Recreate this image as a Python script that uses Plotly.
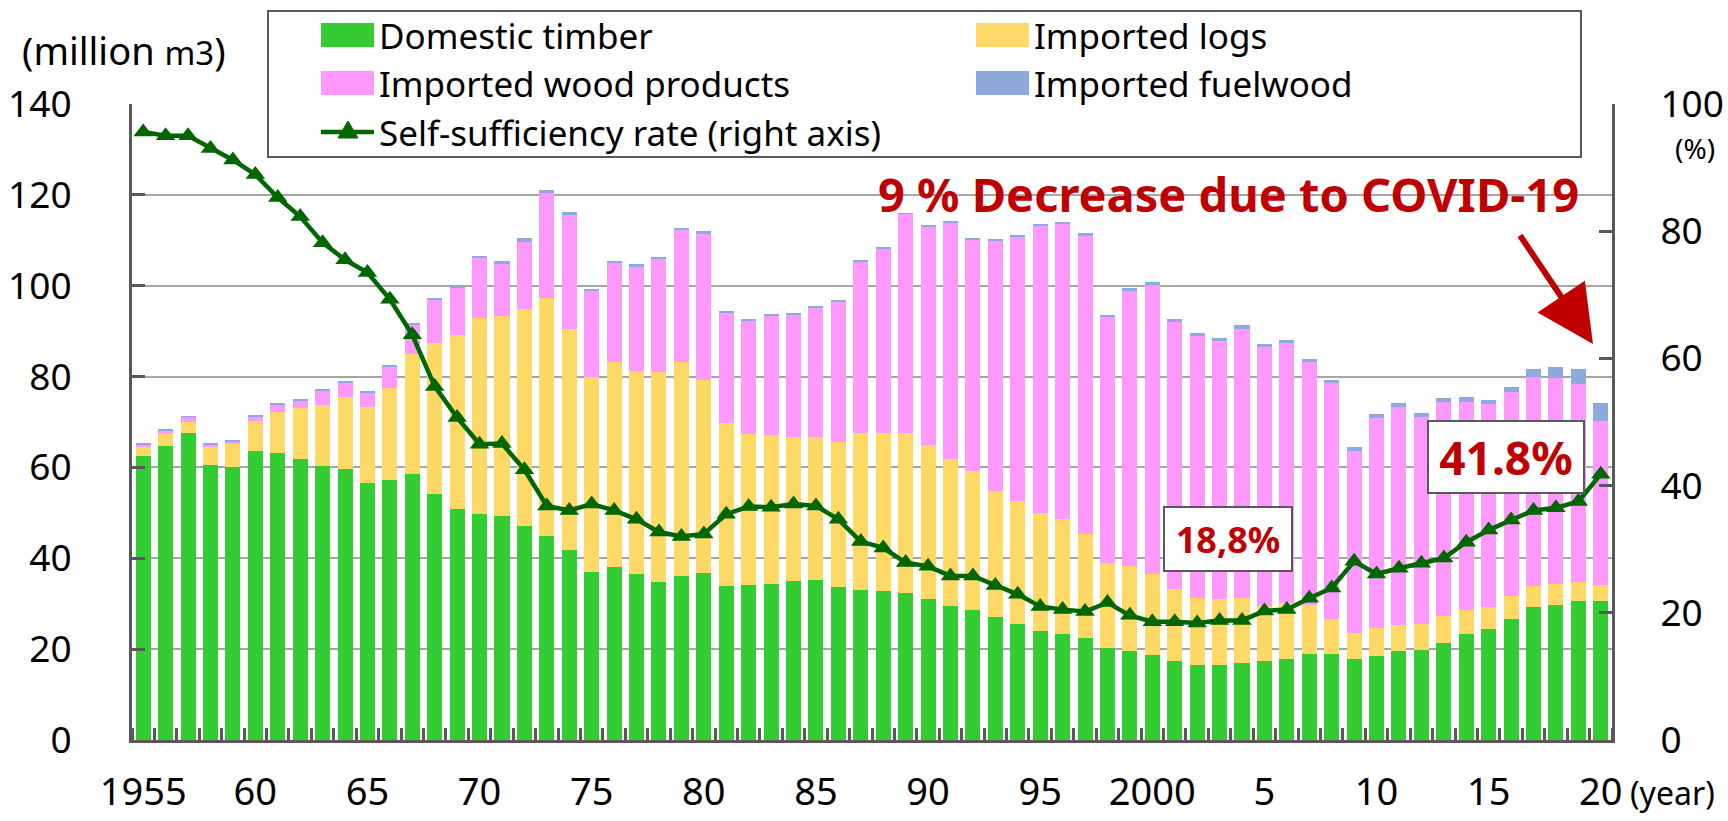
import plotly.graph_objects as go

years = list(range(1955, 2021))

domestic = [62.5, 64.7, 67.6, 60.5, 60.1, 63.6, 63.2, 61.8, 60.3, 59.6,
            56.5, 57.2, 58.6, 54.1, 50.9, 49.7, 49.3, 47.0, 44.9, 41.9,
            37.0, 38.1, 36.5, 34.8, 36.1, 36.8, 33.8, 34.2, 34.4, 35.0,
            35.2, 33.7, 33.0, 32.9, 32.4, 31.0, 29.6, 28.7, 27.0, 25.6,
            24.0, 23.4, 22.4, 20.2, 19.7, 18.7, 17.3, 16.5, 16.5, 16.9,
            17.4, 17.8, 19.0, 19.0, 17.8, 18.5, 19.6, 19.8, 21.3, 23.3,
            24.5, 26.7, 29.2, 29.7, 30.6, 30.7]

imported_logs = [2.1, 2.7, 2.5, 4.1, 5.1, 6.7, 9.1, 11.2, 13.4, 16.0,
                 16.7, 20.3, 26.4, 33.2, 38.3, 43.3, 44.0, 47.8, 52.5, 48.6,
                 42.8, 45.2, 44.7, 46.3, 47.1, 42.5, 36.0, 33.2, 32.7, 31.7,
                 31.5, 31.9, 34.6, 34.6, 35.2, 34.0, 32.2, 30.5, 27.8, 27.1,
                 25.9, 25.2, 23.0, 18.7, 18.6, 17.9, 16.0, 14.8, 14.5, 14.4,
                 12.2, 12.3, 10.7, 7.7, 5.8, 6.1, 5.8, 5.7, 6.0, 5.3,
                 4.8, 5.1, 4.7, 4.7, 4.2, 3.4]

imported_products = [0.5, 0.7, 1.0, 0.4, 0.6, 0.9, 1.6, 1.8, 3.3, 3.1,
                     3.4, 4.7, 6.4, 9.6, 10.3, 13.2, 11.5, 14.8, 22.9, 25.1,
                     19.1, 21.7, 23.1, 24.8, 29.0, 32.0, 24.3, 24.8, 26.3, 26.9,
                     28.4, 31.0, 37.7, 40.8, 48.2, 48.0, 52.1, 51.0, 55.2, 58.2,
                     63.4, 65.0, 65.6, 54.3, 60.5, 63.6, 58.8, 57.6, 56.8, 59.1,
                     56.9, 57.2, 53.4, 51.9, 40.1, 46.2, 47.9, 45.6, 47.0, 45.9,
                     44.6, 44.7, 45.9, 45.2, 43.5, 36.2]

imported_fuelwood = [0.2, 0.2, 0.2, 0.2, 0.2, 0.3, 0.2, 0.2, 0.2, 0.3,
                     0.2, 0.2, 0.5, 0.3, 0.3, 0.4, 0.6, 0.8, 0.7, 0.7,
                     0.4, 0.4, 0.4, 0.3, 0.5, 0.8, 0.4, 0.5, 0.2, 0.3,
                     0.3, 0.3, 0.3, 0.3, 0.2, 0.2, 0.2, 0.3, 0.3, 0.3,
                     0.2, 0.4, 0.5, 0.4, 0.6, 0.6, 0.6, 0.6, 0.8, 0.9,
                     0.7, 0.8, 0.7, 0.6, 0.8, 0.9, 0.8, 0.9, 0.9, 1.0,
                     1.0, 1.3, 1.8, 2.6, 3.3, 3.8]

self_sufficiency = [95.6, 95.0, 95.0, 93.0, 91.2, 88.9, 85.3, 82.3, 78.2, 75.5,
                    73.5, 69.3, 63.7, 55.6, 50.7, 46.5, 46.6, 42.5, 36.8, 36.1,
                    37.1, 36.1, 34.7, 32.7, 32.0, 32.4, 35.5, 36.7, 36.6, 37.1,
                    36.8, 34.7, 31.2, 30.2, 27.9, 27.3, 25.8, 25.8, 24.3, 22.9,
                    21.0, 20.5, 20.2, 21.6, 19.6, 18.6, 18.6, 18.4, 18.8, 18.8,
                    20.3, 20.5, 22.3, 23.9, 28.1, 26.1, 27.0, 27.8, 28.6, 31.1,
                    33.0, 34.6, 36.1, 36.5, 37.5, 41.8]

tick_years = [1955, 1960, 1965, 1970, 1975, 1980, 1985, 1990, 1995, 2000, 2005, 2010, 2015, 2020]
tick_text = ["1955", "60", "65", "70", "75", "80", "85", "90", "95", "2000", "5", "10", "15", "20"]

series_names = ["Domestic timber", "Imported logs", "Imported wood products", "Imported fuelwood"]
series_colors = ["#33CC33", "#FFD966", "#FF99FF", "#8EA9DB"]
line_name = "Self-sufficiency rate (right axis)"
line_color = "#006600"
red = "#C00000"
FONT = "Noto Sans"

W, H = 1728, 821
L, R, T, B = 132, 1612, 104, 740


def px(x):
    return (x - L) / (R - L)


def py(y):
    return (B - y) / (B - T)


fig = go.Figure()
for name, vals, col in zip(series_names,
                           [domestic, imported_logs, imported_products, imported_fuelwood],
                           series_colors):
    fig.add_trace(go.Bar(x=years, y=vals, name=name, marker=dict(color=col, line=dict(width=0)),
                         showlegend=False))

fig.add_trace(go.Scatter(x=years, y=self_sufficiency, name=line_name, yaxis="y2",
                         mode="lines+markers",
                         line=dict(color=line_color, width=4.5),
                         marker=dict(symbol="triangle-up", size=17, color=line_color),
                         showlegend=False))

axis_col = "#595959"
fig.update_layout(
    width=W, height=H,
    margin=dict(l=L, r=W - R, t=T, b=H - B, pad=0),
    paper_bgcolor="white", plot_bgcolor="white",
    barmode="stack", bargap=0.33,
    font=dict(family=FONT, color="black", size=37),
    xaxis=dict(range=[1954.5, 2020.5], tickmode="array", tickvals=tick_years, ticktext=tick_text,
               ticks="", showline=True, linecolor=axis_col, linewidth=3, showgrid=False,
               tickfont=dict(size=38), zeroline=False, ticklabelstandoff=16, automargin=False,
               minor=dict(tickmode="array", tickvals=[y - 0.5 for y in years] + [2020.5],
                          ticks="inside", ticklen=12, tickwidth=3, tickcolor=axis_col)),
    yaxis=dict(range=[0, 140], dtick=20, tick0=0, showline=True, linecolor=axis_col, linewidth=3,
               ticks="inside", ticklen=13, tickwidth=3, tickcolor=axis_col,
               showgrid=True, gridcolor="#A6A6A6", gridwidth=1.5, zeroline=False,
               tickfont=dict(size=37), ticklabelstandoff=50, automargin=False),
    yaxis2=dict(range=[0, 100], dtick=20, tick0=0, overlaying="y", side="right",
                showline=True, linecolor=axis_col, linewidth=3,
                ticks="inside", ticklen=13, tickwidth=3, tickcolor=axis_col,
                showgrid=False, zeroline=False, tickfont=dict(size=37), ticklabelstandoff=38,
                automargin=False),
)

shapes = []
ann = []

# Legend box
shapes.append(dict(type="rect", xref="paper", yref="paper", x0=px(268), x1=px(1581), y0=py(157), y1=py(11),
                   line=dict(color=axis_col, width=2), fillcolor="white", layer="above"))
legend_rows = [(35, 321, series_names[0], series_colors[0]),
               (35, 976, series_names[1], series_colors[1]),
               (83, 321, series_names[2], series_colors[2]),
               (83, 976, series_names[3], series_colors[3])]
for yc, x0, name, col in legend_rows:
    shapes.append(dict(type="rect", xref="paper", yref="paper", x0=px(x0), x1=px(x0 + 53),
                       y0=py(yc + 12), y1=py(yc - 12), line=dict(width=0), fillcolor=col, layer="above"))
    ann.append(dict(xref="paper", yref="paper", x=px(x0 + 56), y=py(yc), text=name, showarrow=False,
                    xanchor="left", yanchor="middle", font=dict(size=35, family=FONT, color="black")))
# line legend entry
yc = 132
x0 = 321
shapes.append(dict(type="line", xref="paper", yref="paper", x0=px(x0), x1=px(x0 + 53), y0=py(yc), y1=py(yc),
                   line=dict(color=line_color, width=4.5), layer="above"))
tri = "M {:.5f} {:.5f} L {:.5f} {:.5f} L {:.5f} {:.5f} Z".format(
    px(x0 + 17), py(yc + 6), px(x0 + 37), py(yc + 6), px(x0 + 27), py(yc - 11))
shapes.append(dict(type="path", xref="paper", yref="paper", path=tri, fillcolor=line_color,
                   line=dict(color=line_color, width=1), layer="above"))
ann.append(dict(xref="paper", yref="paper", x=px(x0 + 56), y=py(yc), text=line_name, showarrow=False,
                xanchor="left", yanchor="middle", font=dict(size=35, family=FONT, color="black")))

# Axis unit labels
ann.append(dict(xref="paper", yref="paper", x=px(124), y=py(50), showarrow=False,
                text="(million <span style='font-size:33px'>m3</span>)",
                xanchor="center", yanchor="middle", font=dict(size=38, family=FONT, color="black")))
ann.append(dict(xref="paper", yref="paper", x=px(1695), y=py(148), showarrow=False, text="(%)",
                xanchor="center", yanchor="middle", font=dict(size=28, family=FONT, color="black")))
ann.append(dict(xref="paper", yref="paper", x=px(1628), y=py(792), showarrow=False, text="(year)",
                xanchor="left", yanchor="middle", font=dict(size=32, family=FONT, color="black")))

# COVID annotation + arrow
ann.append(dict(xref="paper", yref="paper", x=px(1228), y=py(194), showarrow=False,
                text="<b>9 % Decrease due to COVID-19</b>", xanchor="center", yanchor="middle",
                font=dict(size=47, family=FONT, color=red)))
ann.append(dict(xref="paper", yref="paper", x=px(1593), y=py(344), ax=1519 - 1593, ay=234 - 344,
                axref="pixel", ayref="pixel", text="", showarrow=True, arrowhead=2, arrowsize=1.9,
                arrowwidth=6, arrowcolor=red))

# Boxed rate labels
ann.append(dict(xref="paper", yref="paper", x=px(1228), y=py(539), showarrow=False,
                text="<b>18,8%</b>", xanchor="center", yanchor="middle",
                font=dict(size=36, family=FONT, color=red), bgcolor="white",
                bordercolor=axis_col, borderwidth=2, borderpad=2, width=122, height=58))
ann.append(dict(xref="paper", yref="paper", x=px(1506), y=py(457), showarrow=False,
                text="<b>41.8%</b>", xanchor="center", yanchor="middle",
                font=dict(size=46, family=FONT, color=red), bgcolor="white",
                bordercolor=axis_col, borderwidth=2, borderpad=2, width=150, height=66))

fig.update_layout(shapes=shapes, annotations=ann)
fig.write_html("out.html", config={"displayModeBar": False},
               post_script="document.body.style.margin='0px';")
